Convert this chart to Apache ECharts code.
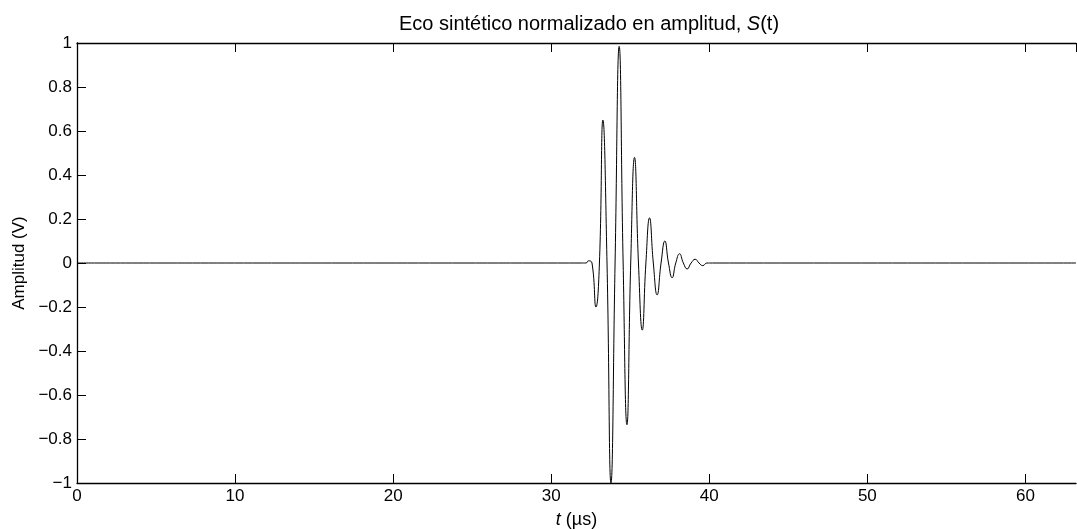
<!DOCTYPE html>
<html>
<head>
<meta charset="utf-8">
<script src="https://cdn.jsdelivr.net/npm/echarts@6/dist/echarts.min.js"></script>
<style>
html,body{margin:0;padding:0;background:#fff;}
#chart{width:1077px;height:529px;}
</style>
</head>
<body>
<div id="chart"></div>
<script>
// Time (µs) and amplitude (V)
var timeUs = [0, 31.9, 32.2, 32.36, 32.58, 32.83, 33.05, 33.27, 33.53, 33.78, 34.04, 34.30, 34.55, 34.79, 35.03, 35.27, 35.52, 35.76, 35.99, 36.22, 36.46, 36.70, 36.95, 37.19, 37.42, 37.65, 37.88, 38.12, 38.36, 38.60, 38.85, 39.11, 39.35, 39.59, 39.85, 40.2, 63.2];
var amplitude = [0, 0, 0, 0.01, 0, -0.20, 0, 0.65, 0, -1.0, 0, 0.985, 0, -0.735, 0, 0.48, 0, -0.305, 0, 0.205, 0, -0.145, 0, 0.10, 0, -0.067, 0, 0.042, 0, -0.027, 0, 0.017, 0, -0.012, 0, 0, 0];
var xTicks = [0, 10, 20, 30, 40, 50, 60];
var yTicks = [-1, -0.8, -0.6, -0.4, -0.2, 0, 0.2, 0.4, 0.6, 0.8, 1];

var FONT = '"Liberation Sans", Arial, sans-serif';
var points = timeUs.map(function (t, i) { return [t, amplitude[i]]; });

var chart = echarts.init(document.getElementById('chart'), null, {renderer: 'canvas'});
chart.setOption({
  animation: false,
  backgroundColor: '#ffffff',
  title: {
    text: '{n|Eco sintético normalizado en amplitud, }{i|S}{n|(t)}',
    left: 584,
    textAlign: 'center',
    top: 9,
    textStyle: {
      fontSize: 20,
      fontWeight: 'normal',
      rich: {
        n: {fontFamily: FONT, fontSize: 20, color: '#000', fontWeight: 'normal'},
        i: {fontFamily: FONT, fontSize: 20, color: '#000', fontStyle: 'italic', fontWeight: 'normal'}
      }
    }
  },
  grid: {left: 77, right: 1, top: 43, bottom: 46, containLabel: false, outerBoundsMode: 'none'},
  xAxis: [{
    type: 'value',
    min: 0, max: 63.2, interval: 10,
    position: 'bottom',
    name: '{i|t} {n|(µs)}',
    nameLocation: 'middle',
    nameGap: 28,
    nameTextStyle: {
      fontSize: 18,
      rich: {
        n: {fontFamily: FONT, fontSize: 18, color: '#000'},
        i: {fontFamily: FONT, fontSize: 18, color: '#000', fontStyle: 'italic'}
      }
    },
    axisLine: {show: true, onZero: false, lineStyle: {color: '#000', width: 1.3}},
    axisTick: {show: true, inside: true, length: 9, lineStyle: {color: '#000'}},
    axisLabel: {show: true, showMaxLabel: false, fontFamily: FONT, fontSize: 17, color: '#000', margin: 5,
      formatter: function (v) { return xTicks.indexOf(v) >= 0 ? String(v) : ''; }},
    splitLine: {show: false}
  }, {
    type: 'value',
    min: 0, max: 63.2, interval: 10,
    position: 'top',
    axisLine: {show: true, onZero: false, lineStyle: {color: '#000', width: 1.3}},
    axisTick: {show: true, inside: true, length: 9, lineStyle: {color: '#000'}},
    axisLabel: {show: false},
    splitLine: {show: false}
  }],
  yAxis: {
    type: 'value',
    min: -1, max: 1, interval: 0.2,
    name: 'Amplitud (V)',
    nameLocation: 'middle',
    nameGap: 48,
    nameTextStyle: {fontFamily: FONT, fontSize: 17, color: '#000'},
    axisLine: {show: true, onZero: false, lineStyle: {color: '#000', width: 1.3}},
    axisTick: {show: true, inside: true, length: 9, lineStyle: {color: '#000'}},
    axisLabel: {fontFamily: FONT, fontSize: 17, color: '#000', margin: 5,
      formatter: function (v) {
        var r = Math.round(v * 10) / 10;
        if (yTicks.indexOf(r) < 0) return '';
        return String(r).replace('-', '\u2212');
      }},
    splitLine: {show: false}
  },
  series: [{
    type: 'line',
    xAxisIndex: 0,
    data: points,
    smooth: 0.5,
    showSymbol: false,
    lineStyle: {color: '#000', width: 1},
    z: 1
  }]
});
</script>
</body>
</html>
